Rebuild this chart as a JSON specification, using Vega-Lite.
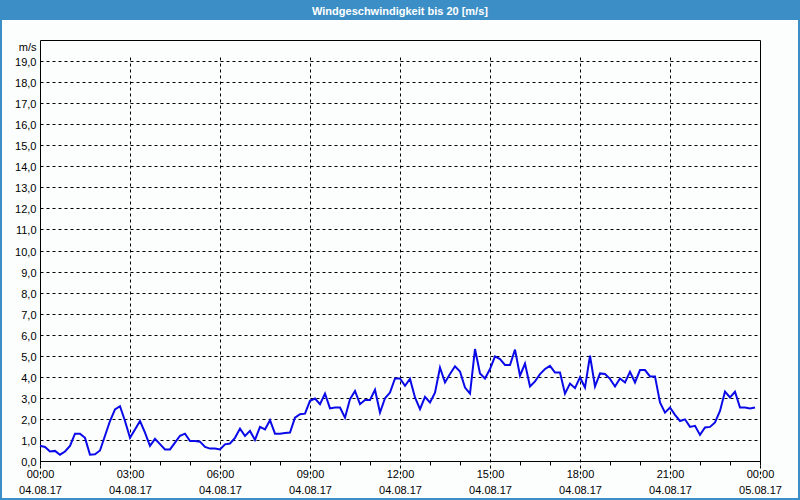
{
  "$schema": "https://vega.github.io/schema/vega-lite/v6.json",
  "width": 796,
  "height": 478,
  "autosize": {"type": "none"},
  "padding": {"left": 2, "top": 20, "right": 2, "bottom": 2},
  "background": "#3c8fc6",
  "view": {"fill": "#fcfefe", "stroke": null},
  "title": {
    "text": "Windgeschwindigkeit bis 20 [m/s]",
    "color": "#ffffff",
    "font": "Liberation Sans",
    "fontWeight": "bold",
    "fontSize": 11,
    "anchor": "middle",
    "frame": "group",
    "baseline": "middle",
    "offset": 0,
    "dy": 3
  },
  "config": {
    "font": "Liberation Sans",
    "axis": {"labelFont": "Liberation Sans", "labelFontSize": 11, "labelColor": "#000000", "domainColor": "#000000", "domainWidth": 1}
  },
  "datasets": {
    "wind": [
      {"t":"2017-08-04T00:00","v":0.72},{"t":"2017-08-04T00:10","v":0.67},{"t":"2017-08-04T00:20","v":0.45},{"t":"2017-08-04T00:30","v":0.48},{"t":"2017-08-04T00:40","v":0.30},{"t":"2017-08-04T00:50","v":0.45},
      {"t":"2017-08-04T01:00","v":0.72},{"t":"2017-08-04T01:10","v":1.30},{"t":"2017-08-04T01:20","v":1.30},{"t":"2017-08-04T01:30","v":1.10},{"t":"2017-08-04T01:40","v":0.30},{"t":"2017-08-04T01:50","v":0.32},
      {"t":"2017-08-04T02:00","v":0.50},{"t":"2017-08-04T02:10","v":1.20},{"t":"2017-08-04T02:20","v":1.90},{"t":"2017-08-04T02:30","v":2.45},{"t":"2017-08-04T02:40","v":2.60},{"t":"2017-08-04T02:50","v":1.90},
      {"t":"2017-08-04T03:00","v":1.10},{"t":"2017-08-04T03:10","v":1.50},{"t":"2017-08-04T03:20","v":1.90},{"t":"2017-08-04T03:30","v":1.35},{"t":"2017-08-04T03:40","v":0.72},{"t":"2017-08-04T03:50","v":1.05},
      {"t":"2017-08-04T04:00","v":0.80},{"t":"2017-08-04T04:10","v":0.55},{"t":"2017-08-04T04:20","v":0.55},{"t":"2017-08-04T04:30","v":0.87},{"t":"2017-08-04T04:40","v":1.20},{"t":"2017-08-04T04:50","v":1.30},
      {"t":"2017-08-04T05:00","v":0.95},{"t":"2017-08-04T05:10","v":0.95},{"t":"2017-08-04T05:20","v":0.92},{"t":"2017-08-04T05:30","v":0.67},{"t":"2017-08-04T05:40","v":0.59},{"t":"2017-08-04T05:50","v":0.59},
      {"t":"2017-08-04T06:00","v":0.55},{"t":"2017-08-04T06:10","v":0.79},{"t":"2017-08-04T06:20","v":0.83},{"t":"2017-08-04T06:30","v":1.10},{"t":"2017-08-04T06:40","v":1.54},{"t":"2017-08-04T06:50","v":1.19},
      {"t":"2017-08-04T07:00","v":1.43},{"t":"2017-08-04T07:10","v":1.00},{"t":"2017-08-04T07:20","v":1.62},{"t":"2017-08-04T07:30","v":1.50},{"t":"2017-08-04T07:40","v":1.94},{"t":"2017-08-04T07:50","v":1.30},
      {"t":"2017-08-04T08:00","v":1.30},{"t":"2017-08-04T08:10","v":1.33},{"t":"2017-08-04T08:20","v":1.35},{"t":"2017-08-04T08:30","v":2.06},{"t":"2017-08-04T08:40","v":2.22},{"t":"2017-08-04T08:50","v":2.25},
      {"t":"2017-08-04T09:00","v":2.86},{"t":"2017-08-04T09:10","v":2.97},{"t":"2017-08-04T09:20","v":2.70},{"t":"2017-08-04T09:30","v":3.20},{"t":"2017-08-04T09:40","v":2.50},{"t":"2017-08-04T09:50","v":2.54},
      {"t":"2017-08-04T10:00","v":2.54},{"t":"2017-08-04T10:10","v":2.06},{"t":"2017-08-04T10:20","v":2.94},{"t":"2017-08-04T10:30","v":3.33},{"t":"2017-08-04T10:40","v":2.70},{"t":"2017-08-04T10:50","v":2.90},
      {"t":"2017-08-04T11:00","v":2.90},{"t":"2017-08-04T11:10","v":3.38},{"t":"2017-08-04T11:20","v":2.30},{"t":"2017-08-04T11:30","v":2.98},{"t":"2017-08-04T11:40","v":3.25},{"t":"2017-08-04T11:50","v":3.92},
      {"t":"2017-08-04T12:00","v":3.92},{"t":"2017-08-04T12:10","v":3.57},{"t":"2017-08-04T12:20","v":3.90},{"t":"2017-08-04T12:30","v":3.02},{"t":"2017-08-04T12:40","v":2.46},{"t":"2017-08-04T12:50","v":3.05},
      {"t":"2017-08-04T13:00","v":2.78},{"t":"2017-08-04T13:10","v":3.25},{"t":"2017-08-04T13:20","v":4.44},{"t":"2017-08-04T13:30","v":3.73},{"t":"2017-08-04T13:40","v":4.13},{"t":"2017-08-04T13:50","v":4.50},
      {"t":"2017-08-04T14:00","v":4.25},{"t":"2017-08-04T14:10","v":3.49},{"t":"2017-08-04T14:20","v":3.20},{"t":"2017-08-04T14:30","v":5.32},{"t":"2017-08-04T14:40","v":4.16},{"t":"2017-08-04T14:50","v":3.92},
      {"t":"2017-08-04T15:00","v":4.37},{"t":"2017-08-04T15:10","v":4.97},{"t":"2017-08-04T15:20","v":4.84},{"t":"2017-08-04T15:30","v":4.56},{"t":"2017-08-04T15:40","v":4.56},{"t":"2017-08-04T15:50","v":5.29},
      {"t":"2017-08-04T16:00","v":4.05},{"t":"2017-08-04T16:10","v":4.63},{"t":"2017-08-04T16:20","v":3.54},{"t":"2017-08-04T16:30","v":3.78},{"t":"2017-08-04T16:40","v":4.13},{"t":"2017-08-04T16:50","v":4.37},
      {"t":"2017-08-04T17:00","v":4.52},{"t":"2017-08-04T17:10","v":4.20},{"t":"2017-08-04T17:20","v":4.20},{"t":"2017-08-04T17:30","v":3.20},{"t":"2017-08-04T17:40","v":3.68},{"t":"2017-08-04T17:50","v":3.46},
      {"t":"2017-08-04T18:00","v":3.97},{"t":"2017-08-04T18:10","v":3.49},{"t":"2017-08-04T18:20","v":5.00},{"t":"2017-08-04T18:30","v":3.54},{"t":"2017-08-04T18:40","v":4.16},{"t":"2017-08-04T18:50","v":4.13},
      {"t":"2017-08-04T19:00","v":3.90},{"t":"2017-08-04T19:10","v":3.54},{"t":"2017-08-04T19:20","v":3.92},{"t":"2017-08-04T19:30","v":3.73},{"t":"2017-08-04T19:40","v":4.24},{"t":"2017-08-04T19:50","v":3.73},
      {"t":"2017-08-04T20:00","v":4.32},{"t":"2017-08-04T20:10","v":4.32},{"t":"2017-08-04T20:20","v":4.02},{"t":"2017-08-04T20:30","v":4.02},{"t":"2017-08-04T20:40","v":2.78},{"t":"2017-08-04T20:50","v":2.30},
      {"t":"2017-08-04T21:00","v":2.54},{"t":"2017-08-04T21:10","v":2.19},{"t":"2017-08-04T21:20","v":1.90},{"t":"2017-08-04T21:30","v":1.98},{"t":"2017-08-04T21:40","v":1.62},{"t":"2017-08-04T21:50","v":1.67},
      {"t":"2017-08-04T22:00","v":1.24},{"t":"2017-08-04T22:10","v":1.59},{"t":"2017-08-04T22:20","v":1.62},{"t":"2017-08-04T22:30","v":1.83},{"t":"2017-08-04T22:40","v":2.38},{"t":"2017-08-04T22:50","v":3.30},
      {"t":"2017-08-04T23:00","v":3.02},{"t":"2017-08-04T23:10","v":3.29},{"t":"2017-08-04T23:20","v":2.54},{"t":"2017-08-04T23:30","v":2.54},{"t":"2017-08-04T23:40","v":2.49},{"t":"2017-08-04T23:50","v":2.54}
    ]
  },
  "data": {"name": "wind"},
  "resolve": {"axis": {"x": "independent", "y": "independent"}},
  "layer": [
    {
      "mark": {"type": "line", "color": "#0a0ae8", "strokeWidth": 2},
      "encoding": {
        "x": {
          "field": "t",
          "type": "temporal",
          "scale": {"domain": [{"year": 2017, "month": 8, "date": 4}, {"year": 2017, "month": 8, "date": 5}], "nice": false, "range": [38, 758]},
          "axis": {
            "title": null,
            "orient": "bottom",
            "offset": -37,
            "domain": true,
            "values": [
              {"year": 2017, "month": 8, "date": 4, "hours": 0},{"year": 2017, "month": 8, "date": 4, "hours": 1},{"year": 2017, "month": 8, "date": 4, "hours": 2},
              {"year": 2017, "month": 8, "date": 4, "hours": 3},{"year": 2017, "month": 8, "date": 4, "hours": 4},{"year": 2017, "month": 8, "date": 4, "hours": 5},
              {"year": 2017, "month": 8, "date": 4, "hours": 6},{"year": 2017, "month": 8, "date": 4, "hours": 7},{"year": 2017, "month": 8, "date": 4, "hours": 8},
              {"year": 2017, "month": 8, "date": 4, "hours": 9},{"year": 2017, "month": 8, "date": 4, "hours": 10},{"year": 2017, "month": 8, "date": 4, "hours": 11},
              {"year": 2017, "month": 8, "date": 4, "hours": 12},{"year": 2017, "month": 8, "date": 4, "hours": 13},{"year": 2017, "month": 8, "date": 4, "hours": 14},
              {"year": 2017, "month": 8, "date": 4, "hours": 15},{"year": 2017, "month": 8, "date": 4, "hours": 16},{"year": 2017, "month": 8, "date": 4, "hours": 17},
              {"year": 2017, "month": 8, "date": 4, "hours": 18},{"year": 2017, "month": 8, "date": 4, "hours": 19},{"year": 2017, "month": 8, "date": 4, "hours": 20},
              {"year": 2017, "month": 8, "date": 4, "hours": 21},{"year": 2017, "month": 8, "date": 4, "hours": 22},{"year": 2017, "month": 8, "date": 4, "hours": 23},
              {"year": 2017, "month": 8, "date": 5, "hours": 0}
            ],
            "labelExpr": "hours(datum.value) % 3 == 0 ? [timeFormat(datum.value, '%H:%M'), timeFormat(datum.value, '%d.%m.%y')] : ''",
            "labelLineHeight": 16,
            "labelPadding": 3,
            "labelBaseline": "top",
            "labelOverlap": false,
            "labelFlush": false,
            "tickSize": 4,
            "tickColor": "#000000",
            "tickOpacity": {"condition": {"test": "hours(datum.value) % 3 == 0 && hours(datum.value) != 0", "value": 0}, "value": 1},
            "grid": true,
            "gridColor": "#000000",
            "gridDash": [3, 3],
            "gridOpacity": {"condition": {"test": "hours(datum.value) % 3 == 0", "value": 1}, "value": 0}
          }
        },
        "y": {
          "field": "v",
          "type": "quantitative",
          "scale": {"domain": [0, 20], "nice": false, "zero": true, "range": [441, 20]},
          "axis": {
            "title": null,
            "orient": "left",
            "offset": -38,
            "domain": true,
            "ticks": false,
            "tickSize": 0,
            "values": [0,1,2,3,4,5,6,7,8,9,10,11,12,13,14,15,16,17,18,19,20],
            "labelExpr": "datum.value == 20 ? 'm/s' : replace(format(datum.value, '.1f'), '.', ',')",
            "labelPadding": 4,
            "labelOffset": 1.5,
            "labelBaseline": {"condition": {"test": "datum.value == 20", "value": "top"}, "value": "middle"},
            "labelOverlap": false,
            "labelFlush": false,
            "grid": true,
            "gridColor": "#000000",
            "gridDash": [3, 3],
            "gridOpacity": {"condition": {"test": "datum.value == 0 || datum.value == 20", "value": 0}, "value": 1}
          }
        }
      }
    },
    {
      "mark": {"type": "line", "strokeOpacity": 0},
      "encoding": {
        "x": {
          "field": "t",
          "type": "temporal",
          "scale": {"domain": [{"year": 2017, "month": 8, "date": 4}, {"year": 2017, "month": 8, "date": 5}], "nice": false, "range": [38, 758]},
          "axis": {"title": null, "orient": "top", "offset": -20, "domain": true, "labels": false, "ticks": false, "grid": false}
        },
        "y": {
          "field": "v",
          "type": "quantitative",
          "scale": {"domain": [0, 20], "nice": false, "zero": true, "range": [441, 20]},
          "axis": {"title": null, "orient": "right", "offset": -38, "domain": true, "labels": false, "ticks": false, "grid": false}
        }
      }
    }
  ]
}
